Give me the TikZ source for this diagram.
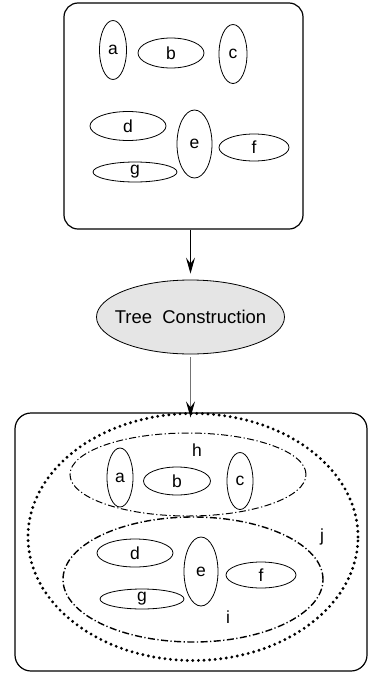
\documentclass[tikz,border=0pt]{standalone}
\usepackage{fontspec}
\setmainfont{Liberation Sans}
\usetikzlibrary{shapes.geometric,arrows.meta}
\begin{document}
\begin{tikzpicture}[x=1pt,y=-1pt,
  oval/.style={ellipse, draw, line width=0.8pt, inner sep=0pt, font=\fontsize{17.5}{20}\selectfont},
  box/.style={draw, line width=1.2pt, rounded corners=14pt, inner sep=0pt},
  grp/.style={ellipse, draw, line width=1pt, inner sep=0pt, dash pattern=on 7pt off 2.5pt on 1.2pt off 2.5pt},
  lbl/.style={inner sep=0pt, font=\fontsize{17.5}{20}\selectfont},
  arr/.style={-{Stealth[length=16pt,width=9pt,inset=6pt]}, line width=1pt}]
\useasboundingbox (0,0) rectangle (368,675);
% input sets
\node[box, minimum width=239, minimum height=226] (top) at (183.5,116){};
\node[oval, minimum width=27, minimum height=59] (a) at (113,50){a};
\node[oval, minimum width=66, minimum height=30] (b) at (171,53){b};
\node[oval, minimum width=28, minimum height=59] (c) at (233,54){c};
\node[oval, minimum width=76, minimum height=29] (d) at (128,126){d};
\node[oval, minimum width=35, minimum height=68] (e) at (194.5,144){e};
\node[oval, minimum width=70, minimum height=27] (f) at (254,147.5){f};
\node[oval, minimum width=84, minimum height=20] (g) at (135,172){g};
% step
\node[oval, fill=black!10, inner xsep=-10pt, minimum width=188, minimum height=74, font=\fontsize{18.5}{22}\selectfont] (tc) at (190.5,317){Tree\ \ Construction};
\draw[arr] (top.south -| tc) -- ([yshift=6]tc.north);
% tree
\node[box, rounded corners=16pt, minimum width=352, minimum height=258] (bot) at (191,542){};
\draw[-{Stealth[length=16pt,width=9pt,inset=6pt,black]}, line width=1pt, black!55, shorten <=3pt] (tc.south) -- ([yshift=-5]bot.north -| tc);
\node[ellipse, draw, inner sep=0pt, line width=3.2pt, line cap=round, dash pattern=on 0pt off 5.6pt, minimum width=330, minimum height=247] (j) at (193,537){};
\node[grp, minimum width=236, minimum height=83] (h) at (188,474.5){};
\node[grp, line width=1.4pt, minimum width=260, minimum height=125] (i) at (193,579.5){};
\node[lbl] (hl) at (197,450){h};
\node[lbl] (il) at (228,617){i};
\node[lbl] (jl) at (322,537){j};
\node[oval, minimum width=26, minimum height=59] (a2) at (120,477.5){a};
\node[oval, minimum width=67, minimum height=28] (b2) at (177,481){b};
\node[oval, minimum width=26, minimum height=57] (c2) at (240,481){c};
\node[oval, minimum width=76, minimum height=28] (d2) at (135,553){d};
\node[oval, minimum width=34, minimum height=69] (e2) at (201,571.5){e};
\node[oval, minimum width=70, minimum height=26] (f2) at (261,575){f};
\node[oval, minimum width=84, minimum height=20] (g2) at (142,599){g};
\end{tikzpicture}
\end{document}
